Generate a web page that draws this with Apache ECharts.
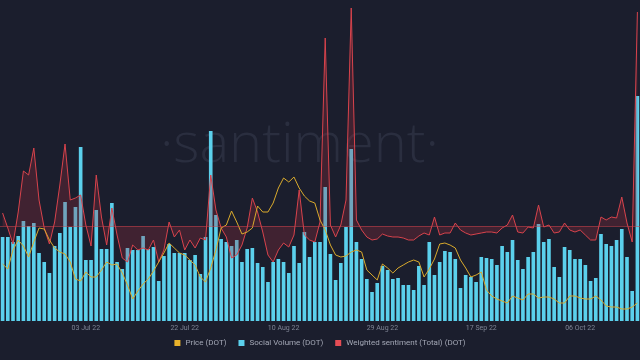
<!DOCTYPE html>
<html>
<head>
<meta charset="utf-8">
<script src="https://cdn.jsdelivr.net/npm/echarts@6/dist/echarts.min.js"></script>
<style>
html,body{margin:0;padding:0;background:#1b1e2d;}
#chart{width:640px;height:360px;}
</style>
</head>
<body>
<div id="chart"></div>
<script>
// Dates: one category per day, 17 Jun 22 .. 17 Oct 22
const startDate = [2022, 5, 17];
const dayCount = 123;
const monthNames = ['Jan','Feb','Mar','Apr','May','Jun','Jul','Aug','Sep','Oct','Nov','Dec'];
const firstLabelIndex = 16;   // 03 Jul 22
const labelStep = 19;

// Social Volume (DOT) - relative units
const socialVolume = [84,84,79,85,100,95,98,68,59,48,75,88,119,94,114,174,61,61,111,72,72,118,59,52,73,71,71,85,72,74,40,65,77,68,68,68,61,66,47,84,190,106,82,79,75,81,59,72,73,58,54,39,59,62,59,48,75,58,89,64,79,
79,134,67,41,58,94,172,79,62,42,29,38,55,51,42,43,36,36,31,55,36,79,46,59,70,69,62,33,46,44,39,64,63,62,56,75,69,81,61,52,64,69,97,79,82,54,44,74,71,62,62,56,40,43,87,77,75,81,92,64,30,225];

// Weighted sentiment (Total) (DOT) - relative units, 0 = neutral
const sentiment = [13,-2,-18,14,55,51,78,26,-2,-18,4,41,82,26,28,31,1,-20,51,9,-19,18,-9,-32,-36,-19,-24,-22,-24,-14,-36,-24,4,-11,-4,-24,-14,-22,-12,-14,51,16,-2,-11,-32,-29,-19,-2,28,14,-6,-29,-36,-24,-17,-21,-9,36,-9,-14,-16,4,188,1,-11,1,26,218,6,-4,-11,-14,-13,-8,-10,-11,-11,-12,-14,-14,-10,-7,-9,9,-9,-7,-7,3,-4,-7,-9,-8,-7,-6,-6,-7,-2,1,11,-6,-7,-1,-2,21,-1,1,-7,-6,3,-4,-6,-4,-9,-14,-14,9,6,9,8,29,3,-16,214];

// Price (DOT) - relative units
const price = [57,52,71,81,75,64,79,93,92,81,73,69,67,59,42,40,49,44,44,51,59,56,57,48,36,22,30,37,42,50,59,68,78,73,68,66,61,56,44,39,53,71,93,96,110,99,87,89,93,115,109,109,118,133,143,139,144,133,125,120,118,101,91,76,66,64,65,69,71,69,51,46,41,57,53,48,53,56,59,61,59,44,52,62,77,78,76,73,61,53,44,46,49,31,25,22,20,18,25,23,21,27,27,23,24,24,22,18,18,25,25,23,22,22,25,21,15,14,14,12,12,14,18];

const categories = [];
for (let i = 0; i < dayCount; i++) {
  const d = new Date(startDate[0], startDate[1], startDate[2] + i);
  const dd = String(d.getDate()).padStart(2, '0');
  categories.push(dd + ' ' + monthNames[d.getMonth()] + ' ' + String(d.getFullYear()).slice(2));
}

const chart = echarts.init(document.getElementById('chart'), null, {renderer: 'canvas'});
chart.setOption({
  backgroundColor: '#1b1e2d',
  animation: false,
  graphic: [{
    type: 'text',
    left: 160,
    top: 118,
    z: 0,
    silent: true,
    style: {
      text: '·santiment·',
      font: '300 56px "Open Sans"',
      fill: '#2a2e3f'
    }
  }],
  grid: {left: 0, right: 0, top: 0, bottom: 39},
  legend: {
    bottom: 8,
    left: 'center',
    icon: 'rect',
    itemWidth: 6,
    itemHeight: 6,
    itemGap: 12,
    textStyle: {color: '#a3a7b5', fontSize: 8, fontFamily: 'Roboto'},
    data: ['Price (DOT)', 'Social Volume (DOT)', 'Weighted sentiment (Total) (DOT)']
  },
  xAxis: {
    type: 'category',
    data: categories,
    axisLine: {show: false},
    axisTick: {show: false},
    splitLine: {show: false},
    axisLabel: {
      color: '#7f8494',
      fontSize: 7,
      fontFamily: 'Roboto',
      margin: 4,
      interval: function (idx) { return idx >= firstLabelIndex && (idx - firstLabelIndex) % labelStep === 0; }
    }
  },
  yAxis: [
    {type: 'value', min: 0, max: 321, show: false, splitLine: {show: false}},
    {type: 'value', min: -95, max: 226, show: false, splitLine: {show: false}},
    {type: 'value', min: 0, max: 321, show: false, splitLine: {show: false}}
  ],
  series: [
    {
      name: 'Social Volume (DOT)',
      type: 'bar',
      yAxisIndex: 0,
      data: socialVolume,
      barCategoryGap: '30%',
      itemStyle: {color: '#5bd0ec'},
      z: 2
    },
    {
      name: 'Weighted sentiment (Total) (DOT)',
      type: 'line',
      yAxisIndex: 1,
      data: sentiment,
      showSymbol: false,
      symbol: 'none',
      lineStyle: {color: '#d8434c', width: 1},
      itemStyle: {color: '#e54d55'},
      areaStyle: {color: 'rgba(170,45,60,0.38)', origin: 0},
      markLine: {
        silent: true,
        symbol: 'none',
        label: {show: false},
        lineStyle: {color: 'rgba(200,65,75,0.55)', width: 1, type: 'solid'},
        data: [{yAxis: 0}]
      },
      z: 3
    },
    {
      name: 'Price (DOT)',
      type: 'line',
      yAxisIndex: 2,
      data: price,
      showSymbol: false,
      symbol: 'none',
      lineStyle: {color: '#d9aa2c', width: 1},
      itemStyle: {color: '#e9b22b'},
      z: 4
    }
  ]
});
</script>
</body>
</html>
